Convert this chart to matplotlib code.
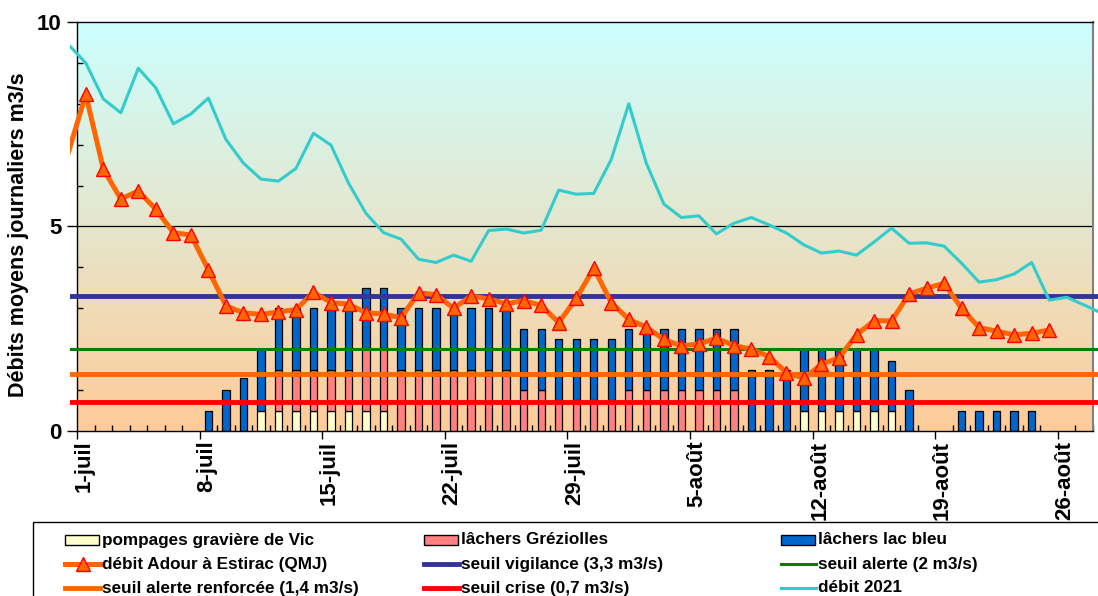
import numpy as np
import matplotlib.pyplot as plt
import matplotlib.transforms as mtransforms
from matplotlib.colors import LinearSegmentedColormap
from matplotlib.patches import Rectangle
from matplotlib.lines import Line2D

plt.rcParams['font.family'] = ['Liberation Sans', 'DejaVu Sans']
plt.rcParams['font.weight'] = 'bold'

# day 0 = 1 juillet, one value per day
tick_days = [0, 7, 14, 21, 28, 35, 42, 49, 56]
tick_labels = ['1-juil', '8-juil', '15-juil', '22-juil', '29-juil',
               '5-août', '12-août', '19-août', '26-août']

# stacked bars, 1 juil -> 27 août (58 days)
pompages_vic = [0, 0, 0, 0, 0, 0, 0, 0, 0, 0,
                0.5, 0.5, 0.5, 0.5, 0.5, 0.5, 0.5, 0.5, 0, 0,
                0, 0, 0, 0, 0, 0, 0, 0, 0, 0,
                0, 0, 0, 0, 0, 0, 0, 0, 0, 0,
                0, 0.5, 0.5, 0.5, 0.5, 0.5, 0.5, 0, 0, 0,
                0, 0, 0, 0, 0, 0, 0, 0]
lachers_grez = [0, 0, 0, 0, 0, 0, 0, 0, 0, 0,
                0, 1, 1, 1, 1, 1, 1.5, 1.5, 1.5, 1.5,
                1.5, 1.5, 1.5, 1.5, 1.5, 1, 1, 0.75, 0.75, 0.75,
                0.75, 1, 1, 1, 1, 1, 1, 1, 0, 0,
                0, 0, 0, 0, 0, 0, 0, 0, 0, 0,
                0, 0, 0, 0, 0, 0, 0, 0]
lachers_bleu = [0, 0, 0, 0, 0, 0, 0, 0.5, 1.0, 1.3,
                1.5, 1.5, 1.5, 1.5, 1.5, 1.5, 1.5, 1.5, 1.5, 1.5,
                1.5, 1.5, 1.5, 1.5, 1.5, 1.5, 1.5, 1.5, 1.5, 1.5,
                1.5, 1.5, 1.5, 1.5, 1.5, 1.5, 1.5, 1.5, 1.5, 1.5,
                1.5, 1.5, 1.5, 1.5, 1.5, 1.5, 1.2, 1.0, 0, 0,
                0.5, 0.5, 0.5, 0.5, 0.5, 0, 0, 0]

# débit Adour à Estirac, 30 juin -> 25 août
debit_estirac = [6.8, 8.23, 6.41, 5.67, 5.87, 5.42, 4.85, 4.79, 3.94, 3.06,
                 2.89, 2.85, 2.91, 2.97, 3.39, 3.14, 3.10, 2.89, 2.86, 2.77,
                 3.38, 3.33, 3.0, 3.30, 3.23, 3.11, 3.19, 3.07, 2.65, 3.24,
                 3.98, 3.14, 2.73, 2.54, 2.24, 2.08, 2.13, 2.27, 2.09, 2.0,
                 1.82, 1.43, 1.29, 1.63, 1.79, 2.35, 2.70, 2.69, 3.35, 3.49,
                 3.61, 3.0, 2.53, 2.44, 2.35, 2.39, 2.47]

# débit 2021, 30 juin -> 28 août
debit_2021 = [9.45, 9.0, 8.12, 7.78, 8.87, 8.39, 7.51, 7.75, 8.14, 7.13,
              6.55, 6.16, 6.11, 6.42, 7.28, 6.99, 6.06, 5.32, 4.85, 4.69,
              4.2, 4.12, 4.3, 4.15, 4.90, 4.94, 4.84, 4.91, 5.89, 5.79,
              5.81, 6.64, 8.0, 6.55, 5.55, 5.22, 5.26, 4.82, 5.08, 5.22,
              5.04, 4.84, 4.55, 4.35, 4.4, 4.3, 4.62, 4.96, 4.59, 4.6,
              4.52, 4.1, 3.64, 3.70, 3.84, 4.12, 3.20, 3.27, 3.08, 2.88]

seuils = [3.3, 2.0, 1.4, 0.7]
seuil_colors = ['#333399', '#008000', '#FF6600', '#FF0000']
seuil_widths = [3.5, 2.2, 3.5, 3.5]

W, H = 1098, 596
fig = plt.figure(figsize=(W / 100, H / 100), dpi=100)
ax = fig.add_axes([77 / W, 1 - 431 / H, 1016 / W, 409 / H])

n_days = len(pompages_vic)
x_bar = np.arange(n_days) + 0.5
pomp = np.array(pompages_vic)
grez = np.array(lachers_grez)
bleu = np.array(lachers_bleu)

# gradient background
grad = LinearSegmentedColormap.from_list('bg', ['#FFCC99', '#CCFFFF'])
ax.imshow(np.linspace(0, 1, 256).reshape(-1, 1), extent=[0, n_days, 0, 10],
          origin='lower', aspect='auto', cmap=grad, zorder=0)
ax.axhline(5, color='black', lw=0.9, zorder=1)

bw = 0.42
for vals, base, col in [(pomp, 0, '#FFFFCC'), (grez, pomp, '#FF8080'),
                        (bleu, pomp + grez, '#0066CC')]:
    base = np.zeros(n_days) + base
    m = vals > 0
    ax.bar(x_bar[m], vals[m], bottom=base[m], width=bw, color=col,
           edgecolor='black', linewidth=0.9, zorder=2)

# lines run slightly outside the plot area, like in Excel
clip = Rectangle((-7 / 1016, 0), 1.2, 1, transform=ax.transAxes)

for v, c, lw in zip(seuils, seuil_colors, seuil_widths):
    ln, = ax.plot([-1, n_days + 1], [v, v], color=c, lw=lw, zorder=3,
                  solid_capstyle='butt')
    ln.set_clip_path(clip)

x21 = np.arange(len(debit_2021)) - 0.5
ln, = ax.plot(x21, debit_2021, color='#33CCCC', lw=2.2, zorder=4)
ln.set_clip_path(clip)

xe = np.arange(len(debit_estirac)) - 0.5
ln, = ax.plot(xe, debit_estirac, color='#FF6600', lw=3.6, zorder=5,
              marker='^', markersize=9.5, markerfacecolor='#FF6600',
              markeredgecolor='#FF0000', markeredgewidth=1.0,
              markevery=slice(1, None))
ln.set_clip_path(clip)

ax.set_xlim(0, n_days)
ax.set_ylim(0, 10)

ax.set_xticks(tick_days)
ax.set_xticklabels(tick_labels, rotation=90, fontsize=16, fontweight='bold')
ax.set_xticks(np.arange(n_days + 1), minor=True)
ax.set_yticks([0, 5, 10])
ax.set_yticklabels(['0', '5', '10'], fontsize=16, fontweight='bold')
ax.set_yticks(np.arange(11), minor=True)
ax.tick_params(axis='x', which='major', direction='out', length=6, width=1, pad=1)
ax.tick_params(axis='x', which='minor', direction='in', length=4, width=1)
ax.tick_params(axis='y', which='major', direction='out', length=7, width=1, pad=4)
ax.tick_params(axis='y', which='minor', direction='in', length=4, width=1)

shift = mtransforms.ScaledTranslation(0.07, 0, fig.dpi_scale_trans)
for lab in ax.get_xticklabels():
    lab.set_transform(lab.get_transform() + shift)

ax.set_ylabel('Débits moyens journaliers m3/s', fontsize=15.5, fontweight='bold')
ax.yaxis.set_label_coords(-0.047, 0.48)

for s in ['left', 'bottom', 'top']:
    ax.spines[s].set_color('black')
    ax.spines[s].set_linewidth(1.0)
ax.spines['right'].set_color('#808080')
ax.spines['right'].set_linewidth(1.5)


# legend drawn by hand: 3 equal-width columns like the Excel one
def fx(px):
    return px / W


def fy(py):
    return 1 - py / H


fig.add_artist(Rectangle((fx(33), fy(640)), fx(1200), 118 / H,
                         transform=fig.transFigure, facecolor='white',
                         edgecolor='black', linewidth=1.0, zorder=5))

legend_items = [
    ('patch', '#FFFFCC', 'pompages gravière de Vic'),
    ('patch', '#FF8080', 'lâchers Gréziolles'),
    ('patch', '#0066CC', 'lâchers lac bleu'),
    ('marker', '#FF6600', 'débit Adour à Estirac (QMJ)'),
    ('line', '#333399', 'seuil vigilance (3,3 m3/s)'),
    ('line', '#008000', 'seuil alerte (2 m3/s)'),
    ('line', '#FF6600', 'seuil alerte renforcée (1,4 m3/s)'),
    ('line', '#FF0000', 'seuil crise (0,7 m3/s)'),
    ('line', '#33CCCC', 'débit 2021'),
]
line_w = {'#333399': 3.5, '#008000': 2.2, '#FF6600': 3.5, '#FF0000': 3.5,
          '#33CCCC': 2.2}
col_x = [65, 424, 781]
row_y = [540, 564, 588]
for i, (kind, col, label) in enumerate(legend_items):
    x0 = col_x[i % 3]
    y0 = row_y[i // 3]
    if kind == 'patch':
        fig.add_artist(Rectangle((fx(x0), fy(y0 + 5)), fx(34), 10 / H,
                                 transform=fig.transFigure, facecolor=col,
                                 edgecolor='black', linewidth=1.0, zorder=6))
    else:
        lw = 3.6 if kind == 'marker' else line_w[col]
        fig.add_artist(Line2D([fx(x0), fx(x0 + 35)], [fy(y0), fy(y0)],
                              transform=fig.transFigure, color=col, lw=lw,
                              zorder=6))
        if kind == 'marker':
            fig.add_artist(Line2D([fx(x0 + 17.5)], [fy(y0)],
                                  transform=fig.transFigure, marker='^',
                                  markersize=9.5, markerfacecolor='#FF6600',
                                  markeredgecolor='#FF0000', zorder=7))
    fig.text(fx(x0 + 37), fy(y0), label, fontsize=12.3, fontweight='bold',
             va='center', ha='left', zorder=7)

fig.savefig('out.png', dpi=100)
